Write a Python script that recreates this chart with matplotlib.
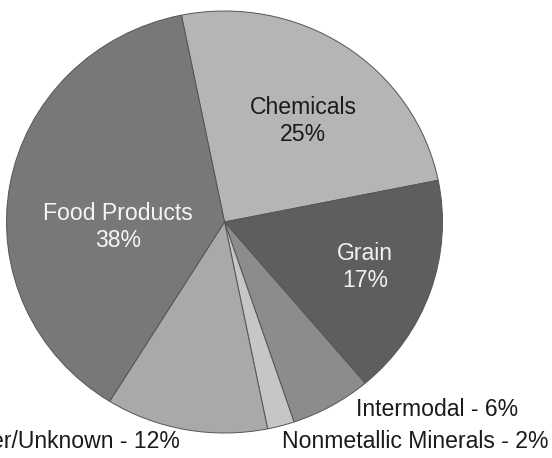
import matplotlib
matplotlib.use("Agg")
import matplotlib.pyplot as plt

categories = ["Chemicals", "Grain", "Intermodal", "Nonmetallic Minerals", "Other/Unknown", "Food Products"]
values = [25, 17, 6, 2, 12, 38]
colors = ["#b5b5b5", "#5e5e5e", "#8c8c8c", "#c6c6c6", "#a9a9a9", "#787878"]

W, H = 552, 458
fig = plt.figure(figsize=(W / 100, H / 100), dpi=100)
fig.patch.set_facecolor("white")

# ellipse box in pixels (top-down coordinates)
cx, cy, rx, ry = 224.5, 222, 218, 211
ax = fig.add_axes([(cx - rx) / W, (H - (cy + ry)) / H, 2 * rx / W, 2 * ry / H])
wedges, _ = ax.pie(values, colors=colors, startangle=101.4, counterclock=False,
                   radius=1.0, center=(0, 0),
                   wedgeprops=dict(edgecolor="#555555", linewidth=0.7))
for w in wedges:
    w.set_clip_on(False)
ax.set_aspect("auto")
ax.set_xlim(-1, 1)
ax.set_ylim(-1, 1)
ax.axis("off")

font = ["Liberation Sans", "DejaVu Sans"]
fs = 16.6

def label(x, y, s, color):
    fig.text(x / W, 1 - y / H, s, ha="center", va="center", fontsize=fs,
             family=font, color=color, linespacing=1.2)

label(303, 121, "Chemicals\n25%", "#1a1a1a")
label(365, 267, "Grain\n17%", "#f2f2f2")
label(118, 227, "Food Products\n38%", "#f5f5f5")
label(437, 410, "Intermodal - 6%", "#1a1a1a")
label(415, 441, "Nonmetallic Minerals - 2%", "#1a1a1a")
label(67, 441, "Other/Unknown - 12%", "#1a1a1a")

fig.savefig("out.png", dpi=100, facecolor="white")
